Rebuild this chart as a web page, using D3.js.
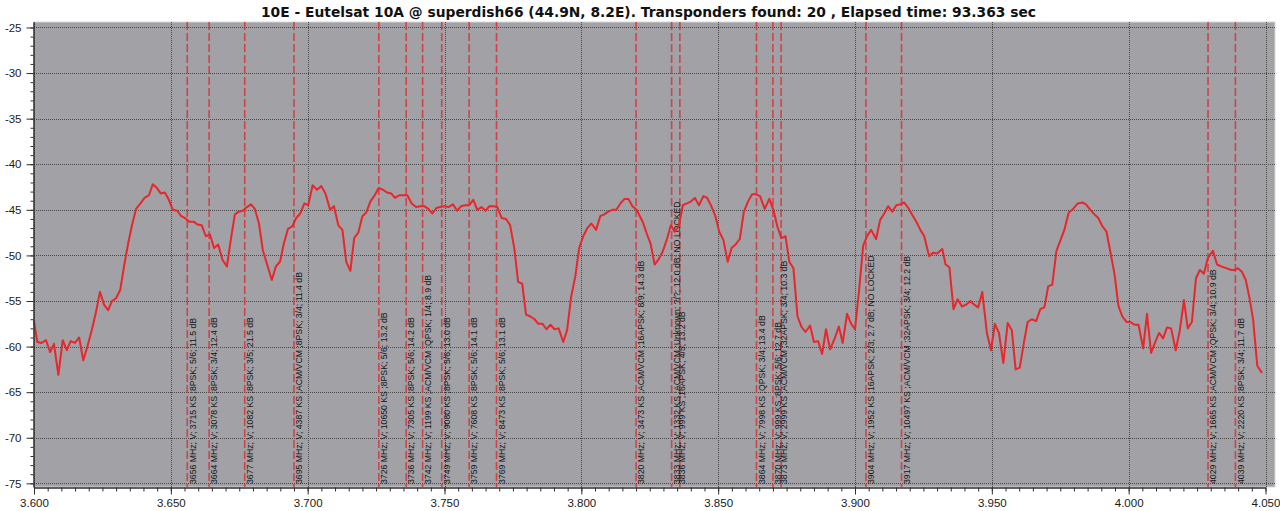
<!DOCTYPE html>
<html><head><meta charset="utf-8">
<script src="https://cdn.jsdelivr.net/npm/d3@7"></script>
<style>html,body{margin:0;padding:0;background:#ffffff;overflow:hidden}</style>
</head><body>
<svg id="chart" width="1280" height="511"></svg>
<script>
const chartTitle = "10E - Eutelsat 10A @ superdish66 (44.9N, 8.2E). Transponders found: 20 , Elapsed time: 93.363 sec";

const freqMHz = [
3600.0,3601.2,3602.8,3604.4,3605.9,3607.3,3608.9,3610.5,3612.0,3613.4,3615.0,3616.5,3618.0,3619.5,3621.1,3622.6,3624.1,3625.6,3627.1,3628.5,
3630.0,3631.5,3632.9,3634.4,3635.8,3637.3,3638.9,3640.4,3642.0,3643.4,3644.9,3646.3,3647.8,3649.3,3650.7,3652.3,3653.8,3655.2,3656.7,3658.3,
3659.7,3661.3,3662.8,3664.3,3665.8,3667.3,3668.9,3670.5,3671.9,3673.4,3674.9,3676.3,3677.8,3679.3,3680.7,3682.2,3683.6,3685.3,3686.9,3688.4,
3689.9,3691.3,3692.8,3694.4,3695.8,3697.3,3698.8,3700.2,3701.8,3703.4,3705.0,3706.5,3708.2,3709.6,3711.2,3712.7,3714.1,3715.6,3717.0,3718.5,
3720.0,3721.4,3722.9,3724.5,3725.9,3727.5,3729.0,3730.5,3731.9,3733.5,3735.0,3736.4,3738.0,3739.6,3741.2,3742.6,3744.1,3745.6,3747.0,3748.5,
3750.0,3751.5,3753.1,3754.6,3756.1,3757.5,3759.0,3760.5,3762.0,3763.5,3765.0,3766.4,3767.9,3769.3,3770.9,3772.5,3774.0,3775.5,3776.9,3778.4,
3779.8,3781.4,3782.9,3784.3,3785.8,3787.3,3788.7,3790.2,3791.7,3793.4,3794.8,3796.3,3797.8,3799.2,3800.7,3802.2,3803.7,3805.4,3806.9,3808.4,
3809.8,3811.4,3812.8,3814.3,3815.8,3817.2,3818.7,3820.2,3822.4,3823.9,3825.3,3826.8,3828.3,3829.7,3831.2,3832.7,3834.1,3835.6,3837.1,3838.6,
3840.0,3841.5,3843.0,3844.6,3846.0,3847.5,3849.0,3850.4,3851.9,3853.5,3854.9,3856.4,3857.9,3859.4,3860.9,3862.4,3863.8,3865.3,3867.0,3868.7,
3870.2,3871.6,3873.1,3874.6,3876.0,3877.5,3879.0,3880.4,3881.9,3883.6,3885.0,3886.5,3888.0,3889.4,3890.9,3892.6,3894.1,3895.5,3897.1,3898.6,
3900.0,3901.5,3903.0,3904.4,3905.9,3907.7,3909.2,3910.7,3912.1,3913.6,3915.1,3916.5,3918.0,3919.5,3921.0,3922.4,3923.9,3925.3,3927.1,3928.5,
3930.0,3931.9,3933.1,3934.5,3936.0,3937.5,3939.1,3940.6,3942.1,3943.6,3945.0,3946.5,3948.2,3949.7,3951.1,3952.6,3954.2,3955.8,3957.3,3958.7,
3960.2,3961.7,3963.1,3964.6,3966.2,3967.7,3969.2,3970.6,3972.1,3973.6,3975.0,3976.5,3978.1,3979.7,3981.4,3983.2,3984.4,3986.0,3987.5,3988.9,
3990.4,3991.9,3993.3,3994.8,3996.3,3997.7,3999.2,4000.6,4002.1,4003.6,4005.3,4006.7,4008.2,4009.7,4011.1,4012.6,4014.0,4015.5,4017.2,4018.7,
4020.2,4021.6,4023.1,4024.6,4026.0,4027.5,4028.9,4030.8,4032.3,4033.8,4035.6,4037.5,4038.9,4039.9,4041.4,4042.8,4044.3,4045.5,4047.0,4048.7
];

const levelDb = [
-57.2,-59.5,-59.6,-59.3,-60.6,-59.7,-63.1,-59.3,-60.4,-59.4,-59.6,-59.0,-61.5,-60.0,-58.2,-56.3,-54.0,-55.4,-56.0,-55.0,
-54.7,-53.8,-51.2,-48.7,-46.7,-44.9,-44.3,-43.7,-43.4,-42.2,-42.6,-43.2,-43.1,-43.9,-45.0,-45.1,-45.7,-45.9,-46.3,-46.3,
-46.6,-46.7,-47.9,-47.7,-49.2,-48.8,-50.5,-51.2,-48.3,-45.5,-45.2,-45.1,-44.7,-44.4,-44.9,-46.5,-49.4,-51.1,-52.7,-51.2,
-50.7,-48.7,-47.1,-46.8,-45.9,-45.4,-44.3,-44.5,-42.3,-42.8,-42.4,-43.2,-45.0,-44.6,-46.7,-47.2,-50.7,-51.7,-48.1,-47.5,
-45.7,-45.3,-44.1,-43.4,-42.6,-42.8,-43.1,-43.2,-43.7,-43.4,-43.4,-43.4,-44.3,-44.7,-44.6,-44.6,-44.9,-45.4,-44.8,-44.7,
-44.6,-44.7,-44.4,-45.1,-44.6,-44.5,-44.5,-43.9,-45.0,-44.7,-45.1,-44.6,-44.6,-44.7,-45.9,-46.0,-46.7,-49.2,-52.9,-53.1,
-56.5,-56.7,-57.0,-57.5,-57.5,-58.1,-57.6,-58.1,-58.0,-59.5,-58.2,-54.5,-52.3,-49.2,-47.9,-47.0,-46.5,-47.2,-45.7,-45.5,
-45.2,-45.0,-45.0,-44.3,-43.8,-43.8,-44.6,-45.0,-46.3,-47.6,-48.7,-51.0,-50.4,-49.6,-48.3,-46.7,-47.4,-46.8,-44.5,-44.3,
-44.1,-43.7,-44.5,-43.5,-43.7,-44.6,-45.7,-47.4,-48.3,-50.7,-49.2,-48.8,-48.2,-45.2,-44.1,-43.3,-43.3,-43.5,-44.9,-43.8,
-45.0,-46.8,-48.1,-47.9,-50.7,-51.4,-56.7,-57.8,-58.4,-57.7,-59.5,-59.4,-60.8,-58.1,-60.3,-59.1,-57.8,-59.6,-56.4,-57.5,
-58.1,-53.8,-48.9,-47.9,-47.2,-48.2,-46.1,-45.4,-44.6,-45.2,-44.5,-44.4,-44.2,-44.8,-45.6,-46.3,-47.2,-47.9,-50.1,-49.7,
-49.8,-49.3,-51.0,-51.3,-55.9,-54.8,-55.6,-55.4,-55.0,-55.4,-55.7,-54.0,-58.5,-60.4,-57.5,-58.5,-61.8,-57.4,-58.2,-62.5,
-62.3,-59.6,-57.3,-57.0,-57.2,-55.9,-55.7,-53.4,-53.2,-49.5,-48.4,-47.2,-45.3,-44.9,-44.3,-44.2,-44.4,-45.0,-45.5,-45.9,
-46.8,-47.4,-49.6,-52.0,-55.6,-56.7,-57.3,-57.3,-57.6,-57.6,-60.2,-56.4,-60.7,-59.5,-58.5,-59.1,-57.9,-58.0,-60.4,-58.2,
-54.9,-58.0,-57.3,-52.5,-51.6,-52.0,-50.3,-49.5,-51.0,-51.2,-51.4,-51.6,-51.6,-51.4,-51.8,-52.7,-54.9,-57.1,-62.1,-62.9
];

const tpFreq = [3656,3664,3677,3695,3726,3736,3742,3749,3759,3769,3820,3833,3836,3864,3870,3873,3904,3917,4029,4039];
const tpLabel = [
"3656 MHz; V; 3715 KS ;8PSK; 5/6; 11.5 dB",
"3664 MHz; V; 3078 KS ;8PSK; 3/4; 12.4 dB",
"3677 MHz; V; 1082 KS ;8PSK; 3/5; 21.5 dB",
"3695 MHz; V; 4387 KS ;ACM/VCM ;8PSK; 3/4; 11.4 dB",
"3726 MHz; V; 10650 KS ;8PSK; 5/6; 13.2 dB",
"3736 MHz; V; 7305 KS ;8PSK; 5/6; 14.2 dB",
"3742 MHz; V; 1199 KS ;ACM/VCM ;QPSK; 1/4; 8.9 dB",
"3749 MHz; V; 9080 KS ;8PSK; 5/6; 13.0 dB",
"3759 MHz; V; 7608 KS ;8PSK; 5/6; 14.1 dB",
"3769 MHz; V; 8473 KS ;8PSK; 5/6; 13.1 dB",
"3820 MHz; V; 3473 KS ;ACM/VCM ;16APSK; 8/9; 14.3 dB",
"3833 MHz; V; 1332 KS ;ACM/VCM ;Unknown; ?/?; 12.0 dB; NO LOCKED",
"3836 MHz; V; 999 KS ;16APSK; 4/5; 13.2 dB",
"3864 MHz; V; 7998 KS ;QPSK; 3/4; 13.4 dB",
"3870 MHz; V; 999 KS ;8PSK; 5/6; 12.7 dB",
"3873 MHz; V; 2999 KS ;ACM/VCM ;32APSK; 3/4; 10.3 dB",
"3904 MHz; V; 1952 KS ;16APSK; 2/3; 2.7 dB; NO LOCKED",
"3917 MHz; V; 10497 KS ;ACM/VCM ;32APSK; 3/4; 12.2 dB",
"4029 MHz; V; 1665 KS ;ACM/VCM ;QPSK; 3/4; 10.9 dB",
"4039 MHz; V; 2220 KS ;8PSK; 3/4; 11.7 dB"
];

const xTickValues = [3.600,3.650,3.700,3.750,3.800,3.850,3.900,3.950,4.000,4.050];
const yTickValues = [-25,-30,-35,-40,-45,-50,-55,-60,-65,-70,-75];

const W = 1280, H = 511;
const plotL = 34, plotR = 1275, plotT = 22, plotB = 487;

const svg = d3.select("#chart");
const x = d3.scaleLinear().domain([3.6, 4.05]).range([34, 1265.5]);
const y = d3.scaleLinear().domain([-75.4, -24.4]).range([plotB, plotT]);

// plot background
svg.append("rect").attr("x", plotL).attr("y", plotT)
  .attr("width", plotR - plotL).attr("height", plotB - plotT)
  .attr("fill", "#a1a1a6").attr("stroke", "#d8d8d8").attr("stroke-width", 1);

// grid
const grid = svg.append("g").attr("stroke", "#4a4a4a").attr("stroke-width", 1)
  .attr("stroke-dasharray", "1,1").attr("shape-rendering", "crispEdges");
grid.selectAll("line.v").data(xTickValues).join("line").attr("class", "v")
  .attr("x1", d => Math.round(x(d)) + 0.5).attr("x2", d => Math.round(x(d)) + 0.5)
  .attr("y1", plotT).attr("y2", plotB);
grid.selectAll("line.h").data(yTickValues).join("line").attr("class", "h")
  .attr("x1", plotL).attr("x2", plotR)
  .attr("y1", d => Math.round(y(d)) + 0.5).attr("y2", d => Math.round(y(d)) + 0.5);

// transponder markers
const markers = svg.append("g");
markers.selectAll("line").data(tpFreq).join("line")
  .attr("x1", d => x(d / 1000)).attr("x2", d => x(d / 1000))
  .attr("y1", plotT).attr("y2", plotB)
  .attr("stroke", "#d8343c").attr("stroke-width", 1.6)
  .attr("stroke-dasharray", "8,3").attr("opacity", 0.85);

// labels
const labelG = svg.append("g").attr("font-family", "'Liberation Sans', Arial, sans-serif")
  .attr("font-size", "8.7px").attr("fill", "#151515");
tpFreq.forEach((f, i) => {
  const close = i > 0 && (f - tpFreq[i - 1]) <= 3;
  const bx = x(f / 1000) + (close ? 5.6 : 8.3);
  labelG.append("text")
    .attr("transform", `translate(${bx},${484}) rotate(-90)`)
    .attr("text-anchor", "start")
    .text(tpLabel[i]);
});

// spectrum line
const pts = freqMHz.map((f, i) => [f / 1000, levelDb[i]]);
svg.append("path").datum(pts)
  .attr("fill", "none").attr("stroke", "#e8262b").attr("stroke-width", 2)
  .attr("stroke-linejoin", "round")
  .attr("d", d3.line().x(d => x(d[0])).y(d => y(d[1])));

// axes
const axisFont = "'Liberation Sans', Arial, sans-serif";
const minorY = d3.range(-75, -24, 1);
const minorX = d3.range(0, 91).map(i => 3.6 + i * 0.005);

const yMinor = svg.append("g").attr("transform", `translate(${plotL - 0.5},0)`)
  .call(d3.axisLeft(y).tickValues(minorY).tickSize(3).tickSizeOuter(0).tickFormat(""));
const yAxis = svg.append("g").attr("transform", `translate(${plotL - 0.5},0)`)
  .call(d3.axisLeft(y).tickValues(yTickValues).tickSize(7).tickSizeOuter(0).tickPadding(5).tickFormat(d3.format("d")));
const xMinor = svg.append("g").attr("transform", `translate(0,${plotB + 0.5})`)
  .call(d3.axisBottom(x).tickValues(minorX).tickSize(4).tickSizeOuter(0).tickFormat(""));
const xAxis = svg.append("g").attr("transform", `translate(0,${plotB + 0.5})`)
  .call(d3.axisBottom(x).tickValues(xTickValues).tickSize(7).tickSizeOuter(0).tickPadding(4).tickFormat(d3.format(".3f")));

[yMinor, yAxis, xMinor, xAxis].forEach(g => {
  g.select(".domain").attr("stroke", "#303030");
  g.selectAll(".tick line").attr("stroke", "#303030");
  g.selectAll("text").attr("font-family", axisFont).attr("font-size", "11.5px").attr("fill", "#1a1a1a");
});
yAxis.selectAll("text").text(d => d3.format("d")(d).replace("−", "-"));

// title
svg.append("text").attr("x", 648.5).attr("y", 17.3)
  .attr("text-anchor", "middle")
  .attr("font-family", "'DejaVu Sans', Verdana, sans-serif")
  .attr("font-weight", "bold").attr("font-size", "13.8px").attr("fill", "#111")
  .attr("textLength", 775).attr("lengthAdjust", "spacingAndGlyphs")
  .text(chartTitle);
</script>
</body></html>
